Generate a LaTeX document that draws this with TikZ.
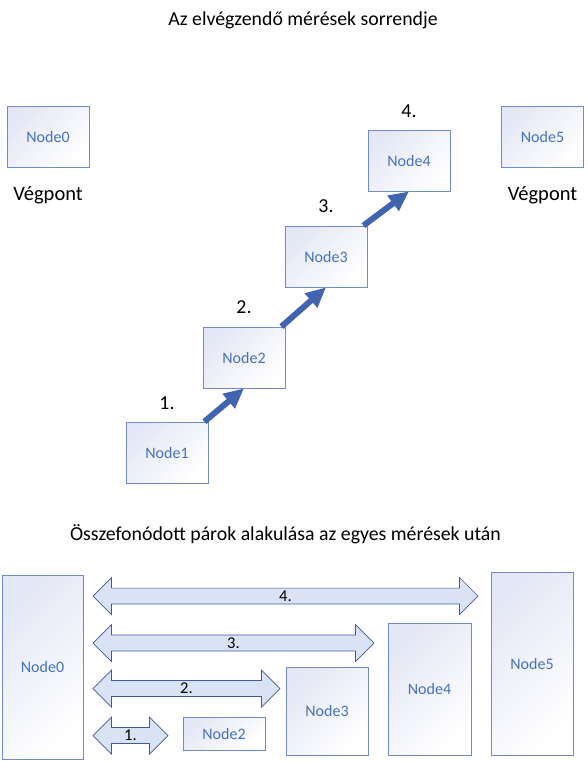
\documentclass[tikz,border=0pt]{standalone}
\usepackage{fontspec}
\setmainfont{Carlito}
\usepackage{tikz}
\usetikzlibrary{arrows.meta,positioning,shapes.arrows}

\definecolor{boxline}{RGB}{110,140,205}
\definecolor{boxtop}{RGB}{228,231,245}
\definecolor{nodetext}{RGB}{68,114,196}
\definecolor{flowblue}{RGB}{64,100,176}
\definecolor{pairfill}{RGB}{218,227,243}
\definecolor{pairline}{RGB}{60,90,160}

\begin{document}
\begin{tikzpicture}[
  x=1pt, y=-1pt,
  node distance=12pt,
  station/.style={rectangle, draw=boxline, line width=0.8pt,
    top color=boxtop, bottom color=white, shading angle=45,
    minimum width=82pt, minimum height=61pt, inner sep=0pt,
    text=nodetext, font=\fontsize{16}{19}\selectfont},
  heading/.style={inner sep=0pt, anchor=base, font=\fontsize{19.8}{23}\selectfont},
  flow/.style={-{Triangle[length=20pt, width=18pt]}, line width=6pt, draw=flowblue},
  pairarrow/.style={double arrow, draw=pairline, fill=pairfill, line width=0.7pt,
    minimum width=37pt, double arrow head extend=9pt, inner sep=1pt,
    font=\fontsize{16.5}{19}\selectfont}
]
  \useasboundingbox (0,0) rectangle (588,761);

  % sorrend
  \node[heading] (title) at (303,25) {Az elvégzendő mérések sorrendje};
  \node[station] (t0) at (48,136.5) {Node0};
  \node[station] (t5) at (542.5,136.5) {Node5};
  \node[station] (t1) at (167,452.5) {Node1};
  \node[station] (t2) at (244,357.5) {Node2};
  \node[station] (t3) at (326,256.5) {Node3};
  \node[station] (t4) at (409,160.5) {Node4};

  \node[heading, below=33pt of t0.south, anchor=base, font=\fontsize{20.5}{24}\selectfont] (end0) {Végpont};
  \node[heading, below=33pt of t5.south, anchor=base, font=\fontsize{20.5}{24}\selectfont] (end5) {Végpont};
  \node[heading, above=12pt of t1.north, anchor=base] (s1) {1.};
  \node[heading, above=13pt of t2.north, anchor=base] (s2) {2.};
  \node[heading, above=13pt of t3.north, anchor=base] (s3) {3.};
  \node[heading, above=12pt of t4.north, anchor=base] (s4) {4.};

  \draw[flow] ([xshift=-4pt]t1.north east) -- (t2.south);
  \draw[flow] ([xshift=-4pt]t2.north east) -- (t3.south);
  \draw[flow] ([xshift=-4pt]t3.north east) -- (t4.south);

  % parok
  \node[heading] (title2) at (285.5,540) {Összefonódott párok alakulása az egyes mérések után};
  \node[station, minimum width=81pt, minimum height=184pt] (b0) at (42.5,667) {Node0};
  \node[station, minimum height=33pt] (b2) at (224,733.5) {Node2};
  \node[station, minimum height=88pt] (b3) at (327,711) {Node3};
  \node[station, minimum width=83pt, minimum height=132pt] (b4) at (429.5,689) {Node4};
  \node[station, minimum height=183pt] (b5) at (532,663.5) {Node5};

  \node[pairarrow, minimum height=75pt] (p1) at (130.5,735.5) {1.};
  \node[pairarrow, minimum height=187pt] (p2) at (186.5,688.5) {2.};
  \node[pairarrow, minimum height=281pt] (p3) at (233.5,643) {3.};
  \node[pairarrow, minimum height=385pt] (p4) at (285.5,596) {4.};
\end{tikzpicture}
\end{document}
